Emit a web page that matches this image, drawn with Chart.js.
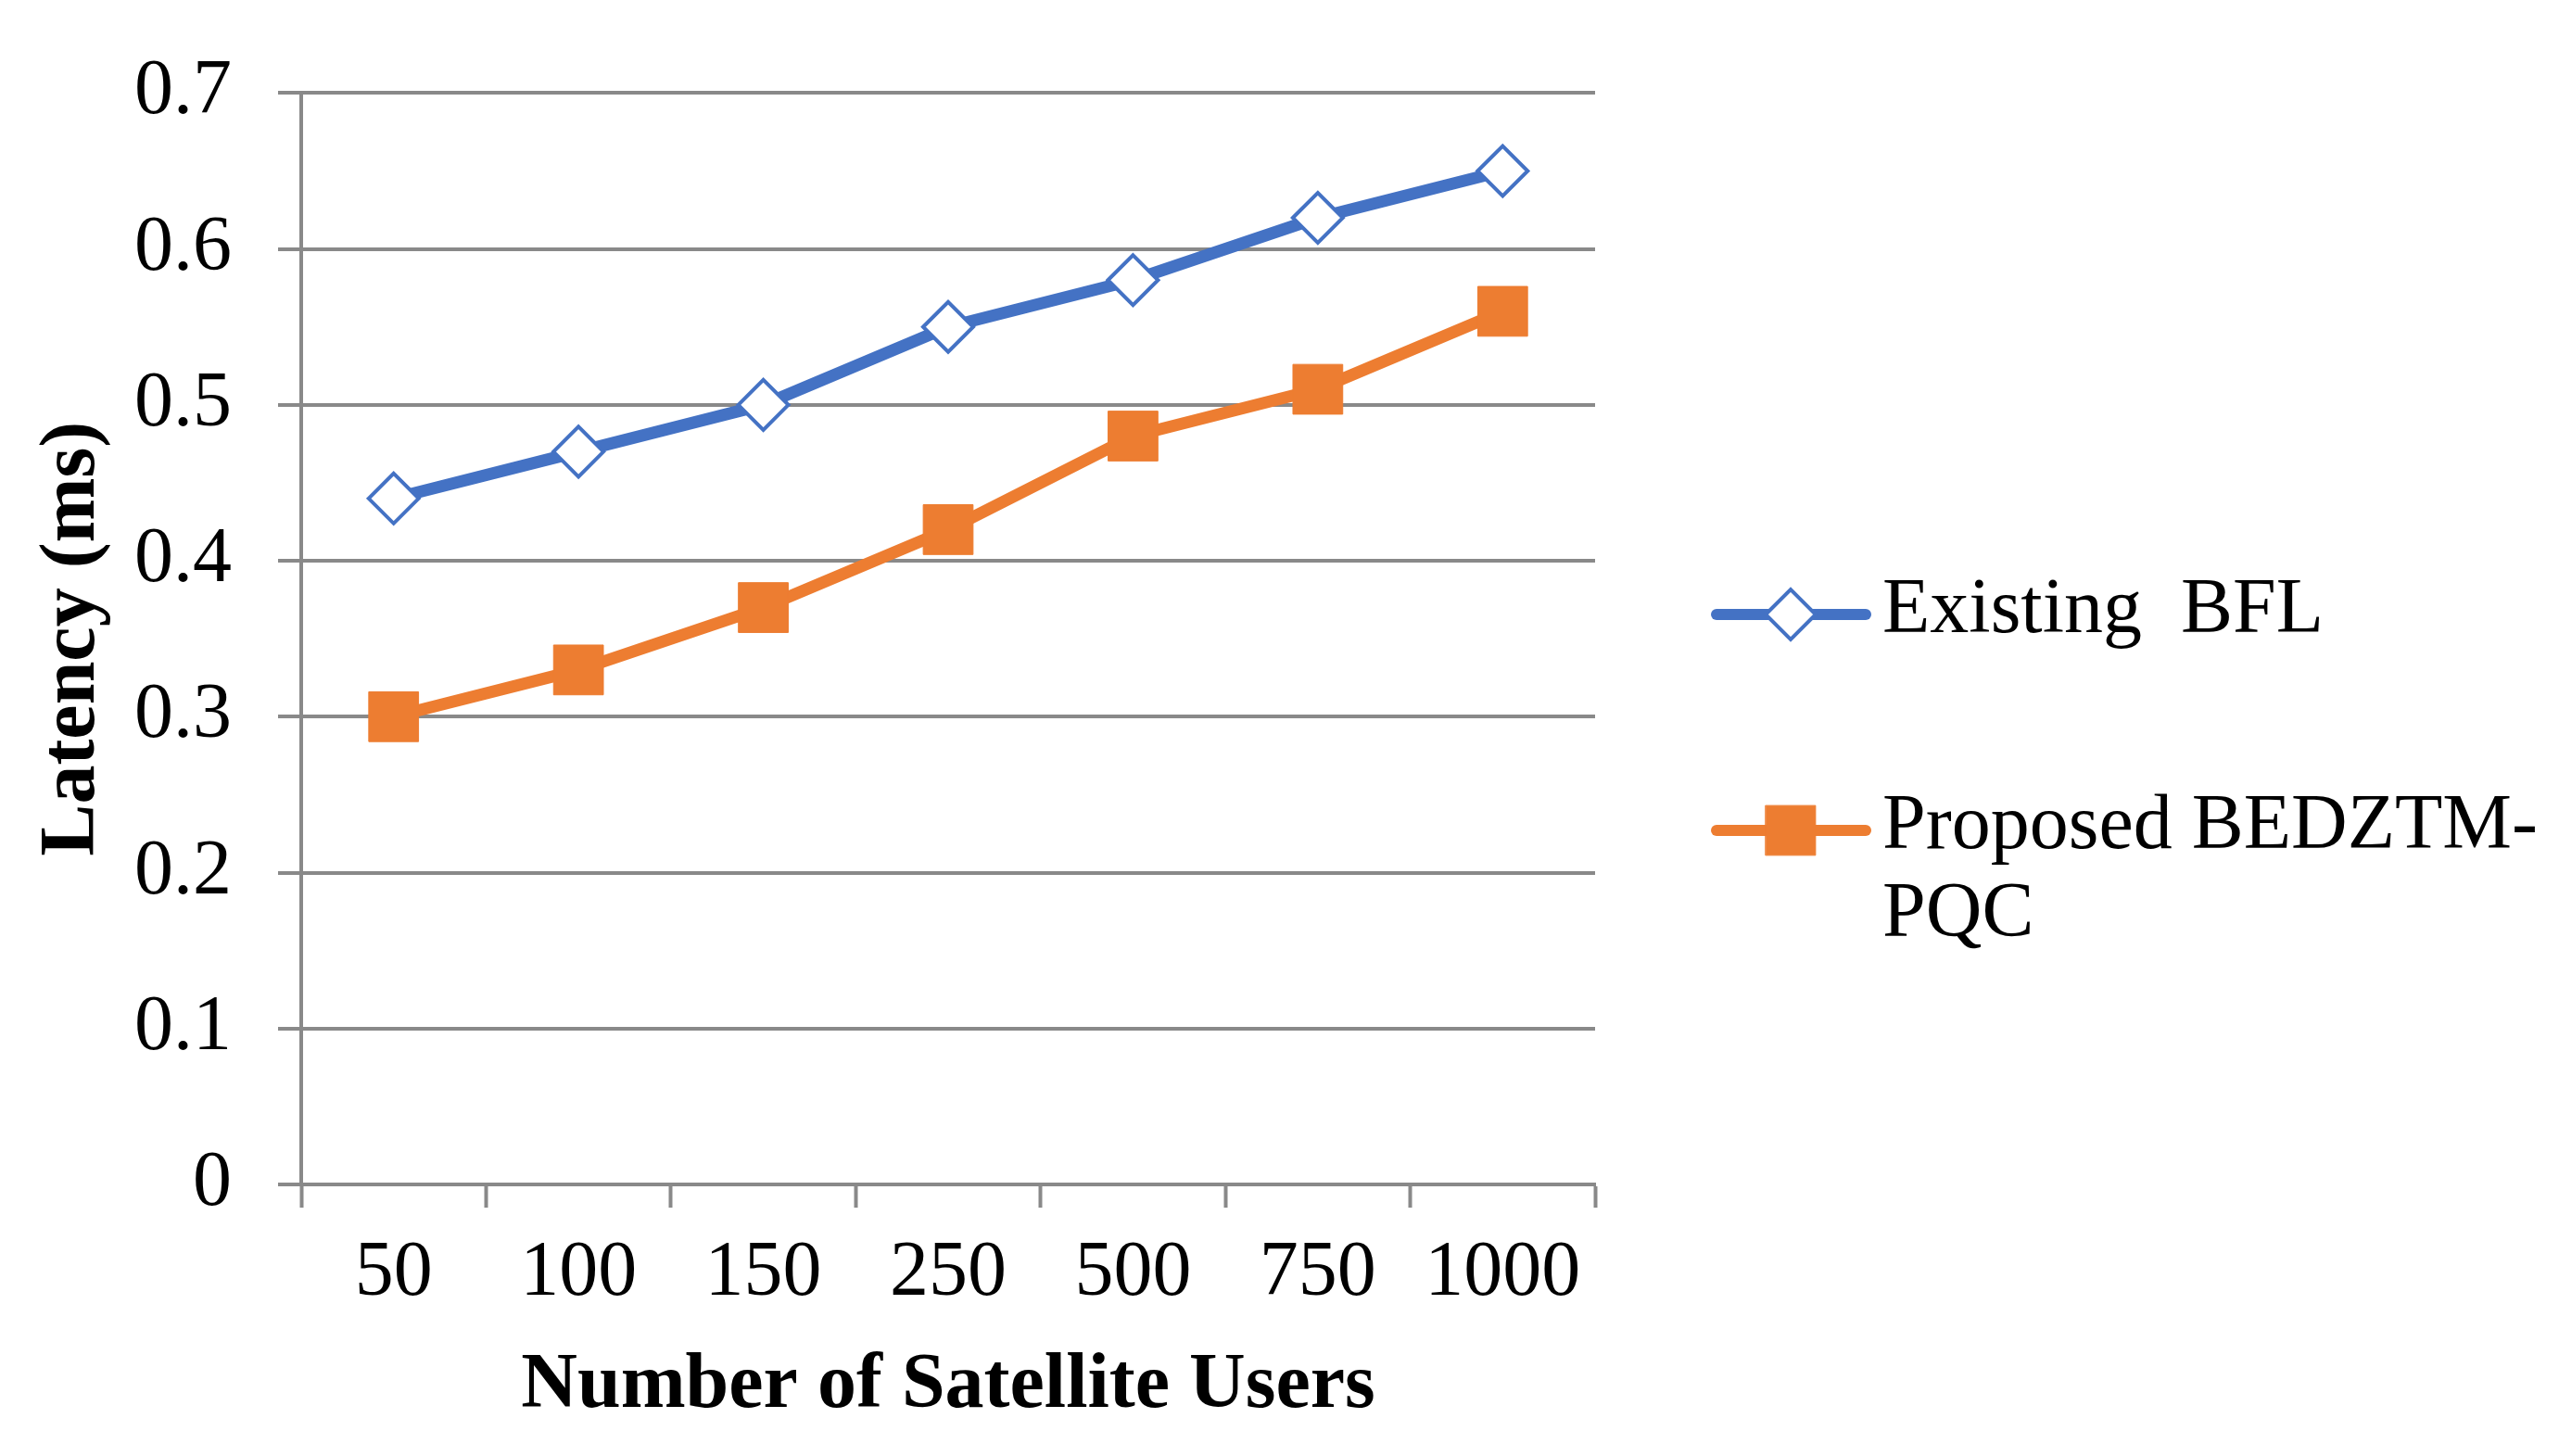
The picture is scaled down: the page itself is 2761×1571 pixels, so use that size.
<!DOCTYPE html>
<html>
<head>
<meta charset="utf-8">
<style>
  html, body { margin: 0; padding: 0; background: #fff; }
  #wrap { width: 2761px; height: 1571px; }
</style>
<script src="https://cdn.jsdelivr.net/npm/chart.js"></script>
</head>
<body>
<div id="wrap"><canvas id="latency" width="2761" height="1571"></canvas></div>
<script>
var users = ["50", "100", "150", "250", "500", "750", "1000"];
var existingBfl = [0.44, 0.47, 0.50, 0.55, 0.58, 0.62, 0.65];
var proposedPqc = [0.30, 0.33, 0.37, 0.42, 0.48, 0.51, 0.56];
var yTicks = [0, 0.1, 0.2, 0.3, 0.4, 0.5, 0.6, 0.7];

var serif = "'Liberation Serif', 'Times New Roman', serif";
var gridGray = "#898989";

// legend drawn by hand on the right so the long label can wrap
var sideLegend = {
    id: "sideLegend",
    afterDraw: function (chart) {
        var ctx = chart.ctx;
        var rows = [
            { ds: chart.data.datasets[0], y: 663, lines: ["Existing  BFL"] },
            { ds: chart.data.datasets[1], y: 896, lines: ["Proposed BEDZTM-", "PQC"] }
        ];
        ctx.save();
        rows.forEach(function (r) {
            ctx.strokeStyle = r.ds.borderColor;
            ctx.lineWidth = 12;
            ctx.lineCap = "round";
            ctx.beginPath();
            ctx.moveTo(1852, r.y);
            ctx.lineTo(2013, r.y);
            ctx.stroke();
            ctx.fillStyle = r.ds.pointBackgroundColor;
            ctx.strokeStyle = r.ds.pointBorderColor;
            ctx.lineWidth = r.ds.pointBorderWidth;
            Chart.helpers.drawPoint(ctx, {
                pointStyle: r.ds.pointStyle,
                radius: r.ds.pointRadius,
                borderWidth: r.ds.pointBorderWidth,
                rotation: 0
            }, 1932, r.y);
            ctx.fillStyle = "#000";
            ctx.font = "84px " + serif;
            ctx.textAlign = "left";
            ctx.textBaseline = "middle";
            r.lines.forEach(function (t, i) {
                ctx.fillText(t, 2031, r.y - 3 + i * 95);
            });
        });
        ctx.restore();
    }
};

var canvas = document.getElementById("latency").getContext("2d");
new Chart(canvas, {
    type: "line",
    data: {
        labels: users,
        datasets: [
            {
                label: "Existing  BFL",
                data: existingBfl,
                borderColor: "#4472C4",
                borderWidth: 13,
                borderJoinStyle: "round",
                borderCapStyle: "round",
                pointStyle: "rectRot",
                pointRadius: 27,
                pointHoverRadius: 27,
                pointBackgroundColor: "#ffffff",
                pointBorderColor: "#4472C4",
                pointBorderWidth: 4,
                tension: 0
            },
            {
                label: "Proposed BEDZTM-PQC",
                data: proposedPqc,
                borderColor: "#ED7D31",
                borderWidth: 13,
                borderJoinStyle: "round",
                borderCapStyle: "round",
                pointStyle: "rect",
                pointRadius: 38,
                pointHoverRadius: 38,
                pointBackgroundColor: "#ED7D31",
                pointBorderColor: "#ED7D31",
                pointBorderWidth: 1,
                tension: 0
            }
        ]
    },
    options: {
        responsive: false,
        devicePixelRatio: 1,
        animation: false,
        events: [],
        layout: { padding: { top: 97, right: 1040, left: 0, bottom: 0 } },
        plugins: {
            legend: { display: false },
            tooltip: { enabled: false }
        },
        scales: {
            x: {
                type: "category",
                offset: true,
                afterFit: function (s) { s.height = 293; },
                grid: {
                    offset: true,
                    drawOnChartArea: false,
                    drawTicks: true,
                    tickLength: 25,
                    tickWidth: 4,
                    tickColor: gridGray
                },
                border: { display: true, color: gridGray, width: 4 },
                ticks: {
                    color: "#000",
                    padding: 22,
                    maxRotation: 0,
                    font: { family: serif, size: 84 }
                },
                title: {
                    display: true,
                    text: "Number of Satellite Users",
                    color: "#000",
                    padding: { top: 0, bottom: 24 },
                    font: { family: serif, size: 84, weight: "bold" }
                }
            },
            y: {
                min: yTicks[0],
                max: yTicks[yTicks.length - 1],
                afterFit: function (s) { s.width = 325; },
                afterBuildTicks: function (s) {
                    s.ticks = yTicks.map(function (v) { return { value: v }; });
                },
                grid: {
                    color: gridGray,
                    lineWidth: 4,
                    drawTicks: true,
                    tickLength: 25
                },
                border: { display: true, color: gridGray, width: 4 },
                ticks: {
                    color: "#000",
                    padding: 50,
                    font: { family: serif, size: 84 },
                    callback: function (v) { return String(Math.round(v * 10) / 10); }
                },
                title: {
                    display: true,
                    text: "Latency (ms)",
                    color: "#000",
                    padding: { top: 29, bottom: 0 },
                    font: { family: serif, size: 84, weight: "bold" }
                }
            }
        }
    },
    plugins: [sideLegend]
});
</script>
</body>
</html>
